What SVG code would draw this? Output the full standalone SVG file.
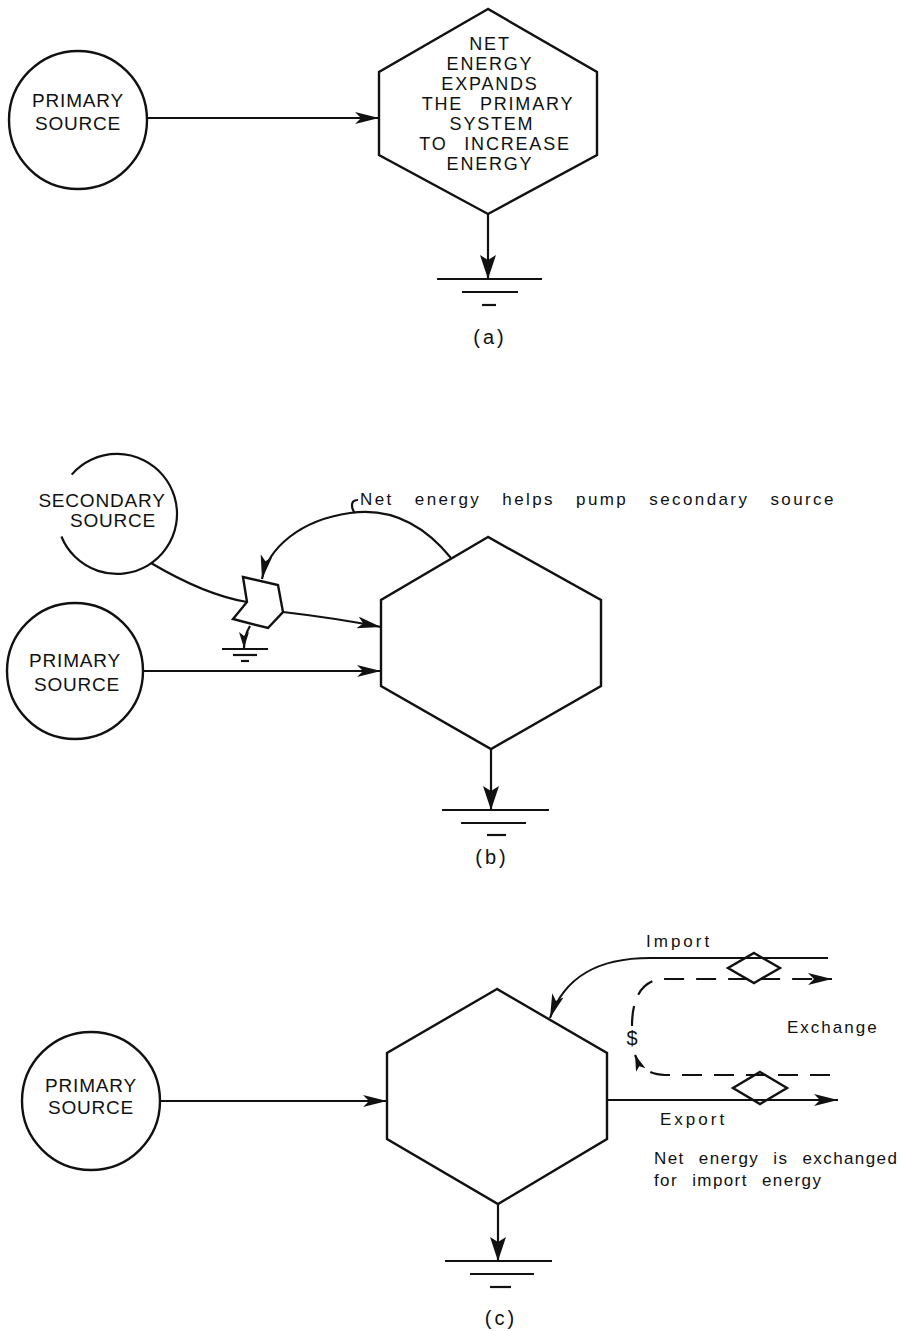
<svg xmlns="http://www.w3.org/2000/svg" width="900" height="1331" viewBox="0 0 900 1331">
<style>
.ln{fill:none;stroke:#111;stroke-width:2.2;stroke-linejoin:miter}
.sh{fill:#fff;stroke:#111;stroke-width:2.4}
.dash{fill:none;stroke:#111;stroke-width:2.2;stroke-dasharray:20 12}
.cap{font-family:"Liberation Sans",Arial,sans-serif;font-size:19px;fill:#111;text-anchor:middle;letter-spacing:0.8px}
.hx{font-size:18px;letter-spacing:1.8px}
.lc{font-family:"Liberation Sans",Arial,sans-serif;font-size:17px;fill:#111}
.lab{font-family:"Liberation Sans",Arial,sans-serif;font-size:20px;fill:#111;text-anchor:middle;letter-spacing:3px}
</style>
<defs>
<marker id="ah" viewBox="0 0 24 12" refX="24" refY="6" markerWidth="24" markerHeight="12" orient="auto" markerUnits="userSpaceOnUse"><path d="M0,0 L24,6 L0,12 L6,6 z" fill="#111"/></marker>
<marker id="ahw" viewBox="0 0 24 16" refX="24" refY="8" markerWidth="24" markerHeight="16" orient="auto" markerUnits="userSpaceOnUse"><path d="M0,0 L24,8 L0,16 L5,8 z" fill="#111"/></marker>
<marker id="ahs" viewBox="0 0 16 10" refX="16" refY="5" markerWidth="16" markerHeight="10" orient="auto" markerUnits="userSpaceOnUse"><path d="M0,0 L16,5 L0,10 L4,5 z" fill="#111"/></marker>
</defs>

<!-- Panel (a) -->
<g id="a-primary">
<circle class="sh" cx="78" cy="120" r="69"/>
<text class="cap" x="78" y="107">PRIMARY</text>
<text class="cap" x="78" y="130">SOURCE</text>
</g>
<g id="a-system">
<polygon class="sh" points="488,9 379,72 379,155 488,214 597,155 597,72"/>
<text class="cap hx" x="490" y="50">NET</text>
<text class="cap hx" x="490" y="70">ENERGY</text>
<text class="cap hx" x="490" y="90">EXPANDS</text>
<text class="cap hx" x="498" y="110" word-spacing="10">THE PRIMARY</text>
<text class="cap hx" x="492" y="130">SYSTEM</text>
<text class="cap hx" x="495" y="150" word-spacing="10">TO INCREASE</text>
<text class="cap hx" x="490" y="170">ENERGY</text>
</g>
<g id="a-sink">
<line class="ln" x1="437" y1="279" x2="542" y2="279"/>
<line class="ln" x1="462" y1="292" x2="518" y2="292"/>
<line class="ln" x1="482" y1="305" x2="496" y2="305"/>
</g>
<text class="lab" x="490" y="344">(a)</text>

<!-- Panel (b) -->
<g id="b-secondary">
<path class="ln" d="M71.7,474.6 A60,60 0 1,1 61.4,536.5"/>
<text class="cap" x="102" y="507">SECONDARY</text>
<text class="cap" x="113" y="527">SOURCE</text>
</g>
<g id="b-pump">
<polygon class="sh" points="243,577 278,585 283,612 268,628 233,619 247,602"/>
</g>
<g id="b-sink-small">
<line class="ln" x1="222" y1="649" x2="268" y2="649"/>
<line class="ln" x1="233" y1="655" x2="257" y2="655" stroke-width="1.5"/>
<line class="ln" x1="241" y1="661" x2="249" y2="661" stroke-width="1.5"/>
</g>
<g id="b-primary">
<circle class="sh" cx="75" cy="671" r="68"/>
<text class="cap" x="75" y="667">PRIMARY</text>
<text class="cap" x="77" y="691">SOURCE</text>
</g>
<g id="b-system">
<polygon class="sh" points="488,537 381,600 381,686 491,749 601,686 601,600"/>
</g>
<g id="b-sink">
<line class="ln" x1="442" y1="810" x2="549" y2="810"/>
<line class="ln" x1="461" y1="823" x2="526" y2="823"/>
<line class="ln" x1="487" y1="835" x2="506" y2="835"/>
</g>
<text class="lab" x="492" y="864">(b)</text>
<text class="lc" x="360" y="505" letter-spacing="2.4" word-spacing="14">Net energy helps pump secondary source</text>

<!-- Panel (c) -->
<g id="c-primary">
<circle class="sh" cx="91" cy="1101" r="69"/>
<text class="cap" x="91" y="1092">PRIMARY</text>
<text class="cap" x="91" y="1114">SOURCE</text>
</g>
<g id="c-system">
<polygon class="sh" points="497,989 387,1053 387,1139 498,1204 607,1139 607,1053"/>
</g>
<g id="c-sink">
<line class="ln" x1="445" y1="1261" x2="552" y2="1261"/>
<line class="ln" x1="470" y1="1274" x2="534" y2="1274"/>
<line class="ln" x1="490" y1="1287" x2="511" y2="1287"/>
</g>
<text class="lab" x="501" y="1325">(c)</text>
<g id="c-import-gate">
<polygon class="sh" points="754,953 780,968 754,983 728,968"/>
</g>
<g id="c-export-gate">
<polygon class="sh" points="760,1072 787,1088 760,1104 733,1088"/>
</g>
<text class="lc" x="646" y="947" letter-spacing="3">Import</text>
<text class="lc" x="787" y="1033" letter-spacing="2">Exchange</text>
<text class="lc" x="660" y="1125" letter-spacing="3">Export</text>
<text class="lc" x="654" y="1164" letter-spacing="1.4" word-spacing="8">Net energy is exchanged</text>
<text class="lc" x="654" y="1186" letter-spacing="1.4" word-spacing="8">for import energy</text>
<text x="632" y="1045" font-family="Liberation Sans,Arial,sans-serif" font-size="20" text-anchor="middle" fill="#111">$</text>

<!-- Connectors -->
<g id="connectors">
<path class="ln" d="M147,118 H379" marker-end="url(#ah)"/>
<path class="ln" d="M488,214 V279" marker-end="url(#ahw)"/>
<path class="ln" d="M151,563 Q205,595 247,602"/>
<path class="ln" d="M283,612 Q335,618 381,627" marker-end="url(#ah)"/>
<path class="ln" d="M250,626 Q244,636 244,648" marker-end="url(#ahs)"/>
<path class="ln" d="M451,558 C420,520 385,508 350,513 C300,520 268,548 262,579" marker-end="url(#ah)"/>
<path class="ln" d="M358,500 Q352,500 352,505 Q352,510 355,513" stroke-width="1.5"/>
<path class="ln" d="M143,671 H381" marker-end="url(#ah)"/>
<path class="ln" d="M491,749 V810" marker-end="url(#ahw)"/>
<path class="ln" d="M160,1101 H387" marker-end="url(#ah)"/>
<path class="ln" d="M498,1204 V1261" marker-end="url(#ahw)"/>
<path class="ln" d="M828,958 H650 C600,958 565,975 550,1018" marker-end="url(#ah)"/>
<path class="dash" d="M632,1026 C632,998 642,979 665,979 H832" marker-end="url(#ah)"/>
<path class="dash" d="M830,1075 H665 C650,1075 640,1068 635,1055" marker-end="url(#ahs)"/>
<path class="ln" d="M607,1100 H838" marker-end="url(#ah)"/>
</g>
</svg>
